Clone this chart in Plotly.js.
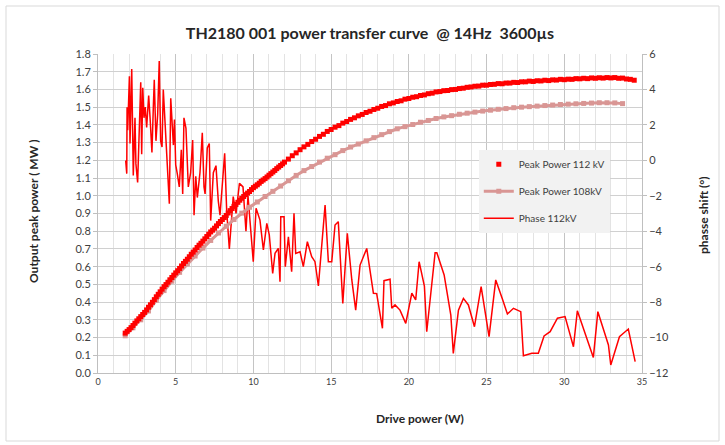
<!DOCTYPE html>
<html><head><meta charset="utf-8">
<script src="https://cdn.plot.ly/plotly-3.0.1.min.js"></script>
<style>html,body{margin:0;padding:0;background:#fff}#chart{width:725px;height:445px}</style>
</head><body><div id="chart"></div>
<script>
const chartTitle = 'TH2180 001 power transfer curve  @ 14Hz  3600µs';
const xTitle = 'Drive power (W)';
const yTitle = 'Output peak power ( MW )';
const y2Title = 'phasse shift (°)';
const seriesNames = ['Peak Power 112 kV', 'Peak Power 108kV', 'Phase 112kV'];

const drive112 = [1.75,1.875,2,2.125,2.25,2.375,2.5,2.625,2.75,2.875,3,3.125,3.25,3.375,3.5,3.625,3.75,3.875,4,4.125,4.25,4.375,4.5,4.625,4.75,4.875,5,5.125,5.25,5.375,5.5,5.625,5.75,5.875,6,6.125,6.25,6.375,6.5,6.625,6.75,6.875,7,7.125,7.25,7.375,7.5,7.625,7.75,7.875,8,8.125,8.25,8.375,8.5,8.625,8.75,8.875,9,9.125,9.25,9.375,9.5,9.625,9.75,9.875,10,10.125,10.25,10.375,10.5,10.625,10.75,10.875,11,11.125,11.25,11.375,11.5,11.625,11.75,11.875,12,12.25,12.5,12.75,13,13.25,13.5,13.75,14,14.25,14.5,14.75,15,15.25,15.5,15.75,16,16.25,16.5,16.75,17,17.25,17.5,17.75,18,18.25,18.5,18.75,19,19.25,19.5,19.75,20,20.25,20.5,20.75,21,21.25,21.5,21.75,22,22.25,22.5,22.75,23,23.25,23.5,23.75,24,24.25,24.5,24.75,25,25.25,25.5,25.75,26,26.25,26.5,26.75,27,27.25,27.5,27.75,28,28.25,28.5,28.75,29,29.25,29.5,29.75,30,30.25,30.5,30.75,31,31.25,31.5,31.75,32,32.25,32.5,32.75,33,33.25,33.5,33.75,34,34.25,34.5];
const power112 = [0.225,0.235,0.245,0.256,0.268,0.281,0.294,0.306,0.318,0.330,0.342,0.356,0.371,0.385,0.399,0.414,0.430,0.444,0.458,0.473,0.487,0.499,0.512,0.526,0.539,0.552,0.565,0.577,0.590,0.604,0.618,0.630,0.642,0.656,0.670,0.682,0.694,0.708,0.721,0.732,0.744,0.757,0.770,0.783,0.796,0.806,0.817,0.830,0.843,0.855,0.866,0.877,0.889,0.903,0.916,0.928,0.940,0.951,0.963,0.975,0.986,0.996,1.006,1.015,1.024,1.035,1.046,1.054,1.062,1.071,1.081,1.089,1.097,1.106,1.116,1.125,1.134,1.143,1.153,1.162,1.171,1.180,1.190,1.207,1.226,1.242,1.260,1.276,1.290,1.306,1.319,1.335,1.347,1.363,1.374,1.387,1.396,1.410,1.419,1.431,1.440,1.451,1.459,1.470,1.477,1.487,1.494,1.504,1.509,1.519,1.524,1.532,1.536,1.545,1.549,1.556,1.559,1.566,1.569,1.576,1.579,1.586,1.588,1.593,1.594,1.599,1.600,1.605,1.607,1.612,1.614,1.618,1.619,1.624,1.624,1.628,1.629,1.633,1.632,1.636,1.636,1.640,1.639,1.643,1.643,1.647,1.645,1.649,1.648,1.652,1.650,1.654,1.653,1.657,1.655,1.658,1.657,1.661,1.660,1.663,1.661,1.665,1.663,1.666,1.664,1.667,1.665,1.667,1.663,1.664,1.659,1.657,1.652];

const drive108 = [1.75,2.25,2.75,3.25,3.75,4.25,4.75,5.25,5.75,6.25,6.75,7.25,7.75,8.25,8.75,9.25,9.75,10.25,10.75,11.25,11.75,12.25,12.75,13.25,13.75,14.25,14.75,15.25,15.75,16.25,16.75,17.25,17.75,18.25,18.75,19.25,19.75,20.25,20.75,21.25,21.75,22.25,22.75,23.25,23.75,24.25,24.75,25.25,25.75,26.25,26.75,27.25,27.75,28.25,28.75,29.25,29.75,30.25,30.75,31.25,31.75,32.25,32.75,33.25,33.75];
const power108 = [0.210,0.255,0.300,0.350,0.410,0.465,0.518,0.568,0.615,0.660,0.705,0.748,0.790,0.828,0.866,0.902,0.935,0.965,0.996,1.025,1.055,1.085,1.115,1.142,1.165,1.190,1.212,1.232,1.255,1.275,1.292,1.310,1.328,1.345,1.362,1.378,1.390,1.402,1.415,1.425,1.436,1.445,1.452,1.460,1.466,1.472,1.478,1.483,1.488,1.492,1.497,1.500,1.503,1.506,1.509,1.512,1.515,1.517,1.519,1.521,1.523,1.525,1.525,1.524,1.520];

const phaseDrive = [1.78,1.85,1.87,1.91,2.02,2.06,2.17,2.23,2.27,2.38,2.44,2.55,2.66,2.75,2.81,2.88,2.96,3.04,3.13,3.26,3.35,3.47,3.56,3.62,3.73,3.84,3.94,4.03,4.12,4.2,4.31,4.42,4.59,4.68,4.85,4.92,5.0,5.1,5.23,5.36,5.45,5.53,5.66,5.81,5.96,6.09,6.18,6.29,6.39,6.56,6.71,6.82,6.89,7.03,7.16,7.25,7.42,7.59,7.74,7.85,8.0,8.15,8.28,8.45,8.7,8.88,9.1,9.33,9.52,9.65,9.99,10.17,10.42,10.64,10.86,11.02,11.24,11.39,11.6,11.71,11.76,11.97,12.05,12.25,12.46,12.61,12.72,13.0,13.21,13.47,13.75,13.96,14.18,14.61,14.82,15.04,15.25,15.46,15.75,16.04,16.33,16.58,16.86,17.29,17.72,17.93,18.3,18.4,18.79,18.9,19.11,19.43,19.8,20.19,20.44,20.66,21.0,21.15,21.69,21.8,22.27,22.7,22.86,23.19,23.51,23.83,24.22,24.65,25.16,25.59,26.04,26.34,26.73,27.2,27.37,27.91,28.33,28.7,29.09,29.56,30.05,30.59,30.84,31.34,31.87,32.16,32.84,32.99,33.55,34.12,34.56];
const phase112 = [0.0,-0.75,3.0,1.7,4.75,0.95,5.15,2.05,-0.85,2.4,-0.2,-1.25,1.3,4.4,0.35,4.1,2.4,3.0,1.85,3.65,2.4,0.45,3.0,4.55,1.1,2.6,5.6,1.1,0.75,4.0,2.2,0.0,-2.45,3.5,0.86,2.3,-0.26,-0.75,-1.5,0.6,-1.9,2.4,1.8,-1.5,-0.7,1.15,-3.1,-0.9,-2.1,-0.7,1.55,-1.5,-1.9,0.7,0.95,-3.4,-0.7,-0.3,-2.3,-3.1,-1.1,0.4,-2.85,-5.0,-2.05,-3.0,-1.3,-1.5,-4.0,-2.0,-5.72,-2.71,-3.37,-5.06,-3.56,-4.21,-6.38,-5.25,-4.97,-6.85,-3.18,-3.18,-6.0,-4.31,-6.28,-2.99,-5.25,-5.16,-6.0,-4.59,-5.44,-5.72,-7.09,-2.52,-5.72,-5.72,-3.65,-3.46,-8.07,-4.12,-6.75,-8.45,-5.91,-4.97,-7.5,-7.52,-9.48,-6.79,-6.71,-8.35,-8.16,-8.45,-9.2,-7.5,-7.88,-5.72,-7.1,-9.67,-5.21,-5.21,-6.47,-8.73,-10.89,-8.45,-7.79,-8.16,-9.39,-7.13,-9.95,-6.75,-7.88,-8.67,-8.35,-8.54,-11.03,-10.89,-10.89,-9.91,-9.67,-8.91,-8.82,-10.52,-8.49,-9.82,-11.12,-8.54,-10.42,-11.55,-9.95,-9.52,-11.36];

const FONT = 'Lato, "Open Sans", sans-serif';

const traces = [
  {x: phaseDrive, y: phase112, name: seriesNames[2], type: 'scatter', mode: 'lines',
   line: {color: '#ff0000', width: 1.5}, yaxis: 'y', legendgroup: 'c', legendrank: 3},
  {x: drive108, y: power108, name: seriesNames[1], type: 'scatter', mode: 'lines+markers',
   line: {color: '#d99694', width: 3}, marker: {symbol: 'square', size: 5, color: '#d99694'},
   yaxis: 'y2', legendgroup: 'b', legendrank: 2},
  {x: drive112, y: power112, name: seriesNames[0], type: 'scatter', mode: 'markers',
   marker: {symbol: 'square', size: 5, color: '#ff0000'},
   yaxis: 'y2', legendgroup: 'a', legendrank: 1}
];

const tickFont = {family: FONT, size: 11, color: '#404040'};
const layout = {
  width: 725, height: 445,
  margin: {l: 98, r: 83, t: 54, b: 72},
  paper_bgcolor: '#ffffff', plot_bgcolor: '#ffffff',
  font: {family: FONT},
  title: {text: chartTitle, font: {family: FONT, size: 16, color: '#262626', weight: 'bold'},
          x: 370/725, xanchor: 'center', y: 1 - 33/445, yanchor: 'middle'},
  showlegend: true,
  legend: {x: 0.70, y: 0.70, xanchor: 'left', yanchor: 'top', bgcolor: '#f2f2f2',
           borderwidth: 0, font: {family: FONT, size: 10, color: '#404040'},
           tracegroupgap: 8, itemwidth: 30, traceorder: 'grouped'},
  xaxis: {range: [0, 35], tick0: 0, dtick: 5, tickformat: 'd',
          showgrid: true, gridcolor: '#c4c4c4', gridwidth: 1,
          minor: {dtick: 1, showgrid: true, gridcolor: '#e3e3e3', gridwidth: 1},
          showline: true, linecolor: '#bfbfbf', linewidth: 1, zeroline: false,
          ticks: '', tickfont: {family: FONT, size: 9, color: '#404040'}},
  yaxis: {range: [-12, 6], tick0: -12, dtick: 2, side: 'right', showgrid: false,
          zeroline: false, showline: true, linecolor: '#bfbfbf', ticks: 'outside',
          ticklen: 4, tickcolor: '#bfbfbf', tickfont: tickFont},
  yaxis2: {range: [0, 1.8], tick0: 0, dtick: 0.1, tickformat: '.1f', side: 'left',
           overlaying: 'y', showgrid: true, gridcolor: '#d0d0d0', gridwidth: 1,
           zeroline: false, showline: true, linecolor: '#bfbfbf', ticks: 'outside',
           ticklen: 4, tickcolor: '#bfbfbf', tickfont: tickFont},
  annotations: [
    {text: xTitle, xref: 'paper', yref: 'paper', x: (420-98)/544, y: (373-418)/319,
     xanchor: 'center', yanchor: 'middle', showarrow: false,
     font: {family: FONT, size: 12, color: '#262626', weight: 'bold'}},
    {text: yTitle, xref: 'paper', yref: 'paper', x: (33-98)/544, y: (373-212)/319,
     xanchor: 'center', yanchor: 'middle', showarrow: false, textangle: -90,
     font: {family: FONT, size: 12, color: '#262626', weight: 'bold'}},
    {text: y2Title, xref: 'paper', yref: 'paper', x: (703-98)/544, y: (373-215)/319,
     xanchor: 'center', yanchor: 'middle', showarrow: false, textangle: -90,
     font: {family: FONT, size: 12, color: '#262626', weight: 'bold'}}
  ],
  shapes: [
    {type: 'rect', xref: 'paper', yref: 'paper', x0: (6-98)/544, x1: (719-98)/544,
     y0: (373-441)/319, y1: (373-6)/319, line: {color: '#d9d9d9', width: 1}, layer: 'below'}
  ]
};

Plotly.newPlot('chart', traces, layout, {displayModeBar: false, staticPlot: true});
</script>
</body></html>
